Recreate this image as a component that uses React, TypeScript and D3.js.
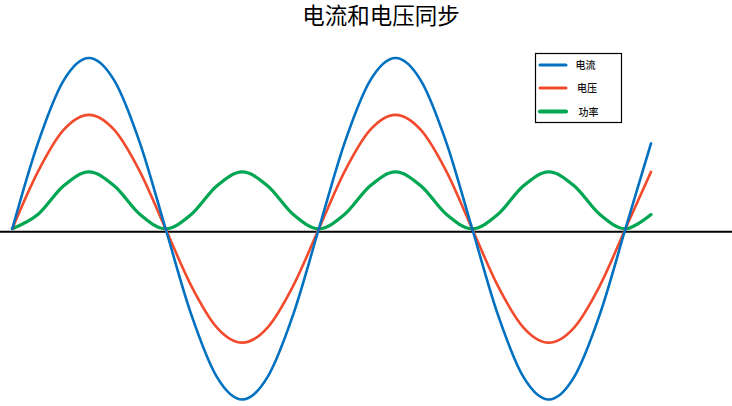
import React, { useEffect, useRef } from 'react';
import * as d3 from 'd3';

// phase angle in degrees, sampled every 30°
const angles = [0, 30, 60, 90, 120, 150, 180, 210, 240, 270, 300, 330, 360, 390, 420, 450, 480, 510, 540, 570, 600, 630, 660, 690, 720, 750];
const current = [0, 0.5, 0.866, 1, 0.866, 0.5, 0, -0.5, -0.866, -1, -0.866, -0.5, 0, 0.5, 0.866, 1, 0.866, 0.5, 0, -0.5, -0.866, -1, -0.866, -0.5, 0, 0.5];
const voltage = [0, 0.333, 0.577, 0.667, 0.577, 0.333, 0, -0.333, -0.577, -0.667, -0.577, -0.333, 0, 0.333, 0.577, 0.667, 0.577, 0.333, 0, -0.333, -0.577, -0.667, -0.577, -0.333, 0, 0.333];
const power = [0, 0.083, 0.25, 0.333, 0.25, 0.083, 0, 0.083, 0.25, 0.333, 0.25, 0.083, 0, 0.083, 0.25, 0.333, 0.25, 0.083, 0, 0.083, 0.25, 0.333, 0.25, 0.083, 0, 0.083];

const seriesNames = ['电流', '电压', '功率'];
const seriesColors = ['#0070C0', '#F24A2C', '#00A651'];
const title = '电流和电压同步';

export default function App() {
  const svgRef = useRef<SVGSVGElement>(null);

  useEffect(() => {
    if (!svgRef.current) return;
    const svg = d3.select(svgRef.current);
    svg.selectAll('*').remove();

    const width = 732;
    const height = 406;

    const x = d3.scaleLinear().domain([0, 750]).range([12.3, 651]);
    const y = d3.scaleLinear().domain([-1, 1]).range([399.5, 58]);

    svg.append('rect').attr('width', width).attr('height', height).attr('fill', '#fff');

    // title
    svg.append('text')
      .attr('x', 381)
      .attr('y', 24)
      .attr('text-anchor', 'middle')
      .attr('font-family', '"Noto Sans CJK SC", sans-serif')
      .attr('font-size', 22.5)
      .attr('fill', '#000')
      .text(title);

    // horizontal axis line
    svg.append('line')
      .attr('x1', 0)
      .attr('x2', width)
      .attr('y1', y(0) + 3)
      .attr('y2', y(0) + 3)
      .attr('stroke', '#000')
      .attr('stroke-width', 2.2);

    const series = [current, voltage, power];
    const widths = [2.6, 2.6, 3.2];
    const line = d3.line<number>()
      .x((_, i) => x(angles[i]))
      .y(d => y(d))
      .curve(d3.curveCatmullRom.alpha(0));

    // draw power first so current/voltage sit on top
    [2, 1, 0].forEach(k => {
      svg.append('path')
        .datum(series[k])
        .attr('d', line)
        .attr('fill', 'none')
        .attr('stroke', seriesColors[k])
        .attr('stroke-width', widths[k])
        .attr('stroke-linejoin', 'round')
        .attr('stroke-linecap', 'round');
    });

    // legend
    const lg = svg.append('g');
    lg.append('rect')
      .attr('x', 535.5)
      .attr('y', 53.5)
      .attr('width', 86)
      .attr('height', 69)
      .attr('fill', '#fff')
      .attr('stroke', '#000')
      .attr('stroke-width', 1.2);

    const rowY = [65, 88, 111.5];
    const textX = [575.5, 577, 578.5];
    const legendWidths = [3, 3, 4.2];
    seriesNames.forEach((name, i) => {
      lg.append('line')
        .attr('x1', 540)
        .attr('x2', 566)
        .attr('y1', rowY[i])
        .attr('y2', rowY[i])
        .attr('stroke', seriesColors[i])
        .attr('stroke-width', legendWidths[i])
        .attr('stroke-linecap', 'round');
      lg.append('text')
        .attr('x', textX[i])
        .attr('y', rowY[i] + 4)
        .attr('font-family', '"Noto Sans CJK SC", sans-serif')
        .attr('font-size', 10)
        .attr('font-weight', 500)
        .attr('fill', '#111')
        .text(name);
    });
  }, []);

  return (
    <svg
      ref={svgRef}
      width={732}
      height={406}
      style={{ position: 'absolute', left: 0, top: 0, display: 'block' }}
    />
  );
}
